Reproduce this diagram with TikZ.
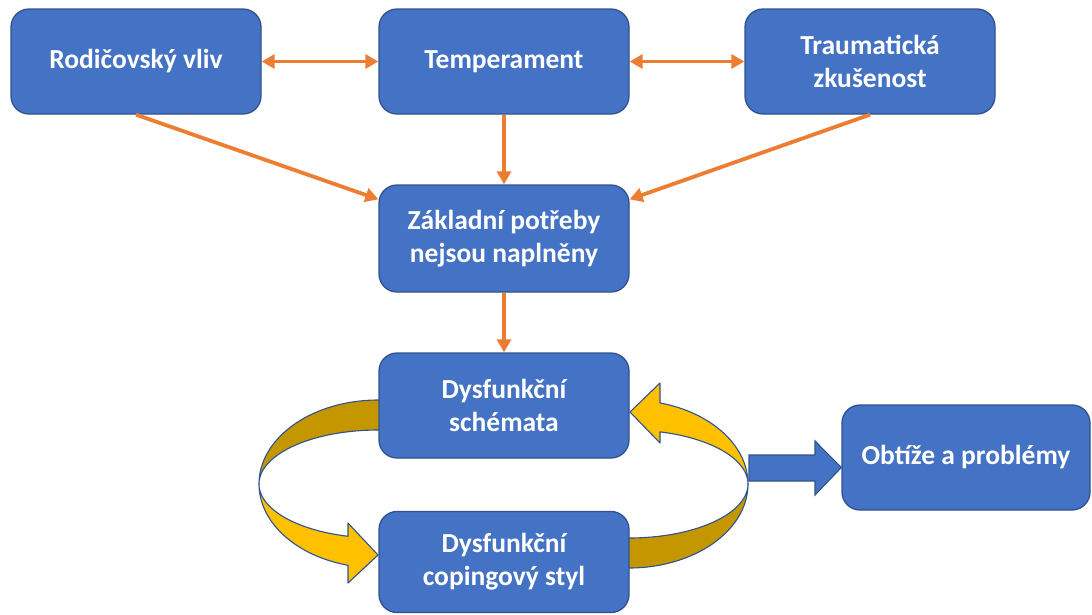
\documentclass[tikz,border=0pt]{standalone}
\usepackage{fontspec}
\setmainfont{Carlito}
\usetikzlibrary{arrows.meta}
\definecolor{boxblue}{HTML}{4472C4}
\definecolor{boxedge}{HTML}{2F528F}
\definecolor{arrorange}{HTML}{ED7D31}
\definecolor{goldlight}{HTML}{FFC000}
\definecolor{golddark}{HTML}{C49700}
\tikzset{
  stepbox/.style={draw=boxedge, line width=1.3pt, fill=boxblue, rounded corners=18pt,
    minimum width=250pt, minimum height=105pt, inner sep=0pt, align=center,
    text=white, font=\fontsize{27.5}{33}\selectfont\bfseries},
  link/.style={draw=arrorange, line width=3.8pt, -{Triangle[length=13pt,width=14pt]}},
  biglink/.style={draw=arrorange, line width=3.8pt, {Triangle[length=13pt,width=14pt]}-{Triangle[length=13pt,width=14pt]}},
  ribbonlight/.style={draw=boxedge, line width=1.1pt, fill=goldlight, line join=round},
  ribbondark/.style={draw=boxedge, line width=1.1pt, fill=golddark, line join=round},
  blockarrow/.style={draw=boxedge, line width=1.1pt, fill=boxblue, line join=miter}
}
\begin{document}
\begin{tikzpicture}[x=1pt, y=-1pt]
\useasboundingbox (0,0) rectangle (1092,614);
% left ribbon (back part, dark)
\draw[ribbondark] plot[domain=270:180, samples=50] ({378+119*cos(\x)},{484+84*sin(\x)})
  -- plot[domain=180:270, samples=50] ({378+119*cos(\x)},{484+54*sin(\x)}) -- (388,430) -- (388,400) -- cycle;
% left ribbon (front part, light, with head)
\draw[ribbonlight] plot[domain=180:104.6, samples=50] ({378+119*cos(\x)},{484+84*sin(\x)})
  -- (348,583) -- (378,555) -- (348,523)
  -- plot[domain=104.6:180, samples=50] ({378+119*cos(\x)},{484+54*sin(\x)}) -- cycle;
% right ribbon (back part, dark)
\draw[ribbondark] plot[domain=0:90, samples=50] ({629+119*cos(\x)},{484+84*sin(\x)})
  -- (619,568) -- (619,538)
  -- plot[domain=90:0, samples=50] ({629+119*cos(\x)},{484+54*sin(\x)}) -- cycle;
% right ribbon (front part, light, with head)
\draw[ribbonlight] plot[domain=0:-74.9, samples=50] ({629+119*cos(\x)},{484+84*sin(\x)})
  -- (660,383) -- (630,412) -- (660,443)
  -- plot[domain=-74.9:0, samples=50] ({629+119*cos(\x)},{484+54*sin(\x)}) -- cycle;
% boxes
\node[stepbox] (A) at (136,61.5) {Rodičovský vliv};
\node[stepbox] (B) at (504,61.5) {Temperament};
\node[stepbox] (C) at (870,61.5) {Traumatická\\zkušenost};
\node[stepbox, minimum height=107pt] (D) at (504,238.5) {Základní potřeby\\nejsou naplněny};
\node[stepbox] (E) at (504,405.5) {Dysfunkční\\schémata};
\node[stepbox, minimum height=101pt] (F) at (504,562) {Dysfunkční\\copingový styl};
\node[stepbox, minimum width=248pt] (G) at (966,457.5) {Obtíže a problémy};
% block arrow to G
\coordinate (tipG) at ([yshift=-10pt]G.west);
\draw[blockarrow] (749,455) -- (815,455) -- (815,441) -- (tipG) -- (815,495) -- (815,481) -- (749,481) -- cycle;
% orange connectors
\draw[biglink] (A.east) -- (B.west);
\draw[biglink] (B.east) -- (C.west);
\draw[link] (A.south) -- ([yshift=-15pt]D.north west);
\draw[link] (B.south) -- (D.north);
\draw[link] (C.south) -- ([yshift=-15pt]D.north east);
\draw[link] (D.south) -- (E.north);
\end{tikzpicture}
\end{document}
